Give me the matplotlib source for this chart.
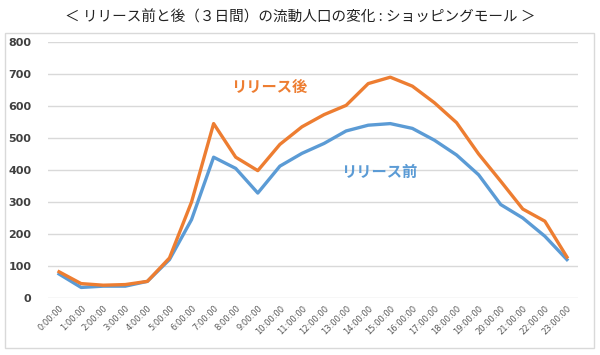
import matplotlib
matplotlib.use("Agg")
import matplotlib.pyplot as plt
from matplotlib.patches import Rectangle

plt.rcParams['font.family'] = ['Noto Sans CJK JP', 'DejaVu Sans']

# データ
hours = [f"{h}:00:00" for h in range(24)]
before = [75, 33, 37, 37, 52, 120, 245, 440, 405, 328, 412, 452,
          483, 522, 540, 545, 530, 493, 447, 385, 292, 250, 193, 120]
after = [82, 45, 40, 42, 52, 125, 300, 545, 440, 398, 480, 535,
         573, 602, 670, 690, 662, 610, 548, 450, 365, 278, 240, 128]
yticks = [0, 100, 200, 300, 400, 500, 600, 700, 800]

title = "＜ リリース前と後（３日間）の流動人口の変化 : ショッピングモール ＞"

fig = plt.figure(figsize=(6, 3.55), dpi=100)
# グラフ領域の枠
fig.patches.append(Rectangle((5 / 600, 1 - 348 / 355), 589 / 600, 315 / 355,
                             transform=fig.transFigure, fill=False,
                             edgecolor="#d9d9d9", linewidth=1))
fig.text(0.5, 1 - 17 / 355, title, ha="center", va="center", fontsize=10.5, color="#222222")

ax = fig.add_axes([48 / 600, 1 - 298 / 355, 530 / 600, 256 / 355])
x = list(range(len(hours)))
ax.plot(x, before, color="#5B9BD5", linewidth=2.4, solid_joinstyle="round")
ax.plot(x, after, color="#ED7D31", linewidth=2.4, solid_joinstyle="round")

ax.set_xlim(-0.5, 23.5)
ax.set_ylim(0, 800)
ax.set_yticks(yticks)
ax.set_xticks(x)
ax.set_xticklabels(hours, rotation=45, ha="right", rotation_mode="anchor",
                   fontsize=6, color="#595959", family="DejaVu Sans")
ax.set_yticklabels([str(v) for v in yticks], fontsize=8, fontweight="bold",
                   color="#404040", family="DejaVu Sans")
ax.grid(axis="y", color="#d9d9d9", linewidth=1)
ax.set_axisbelow(True)
for s in ax.spines.values():
    s.set_visible(False)
ax.tick_params(length=0)
ax.tick_params(axis="y", pad=12)
ax.tick_params(axis="x", pad=4)

ax.text(9.5, 660, "リリース後", color="#ED7D31", fontsize=11, fontweight="bold",
        ha="center", va="center")
ax.text(14.5, 395, "リリース前", color="#5B9BD5", fontsize=11, fontweight="bold",
        ha="center", va="center")

fig.savefig("out.png", dpi=100)
